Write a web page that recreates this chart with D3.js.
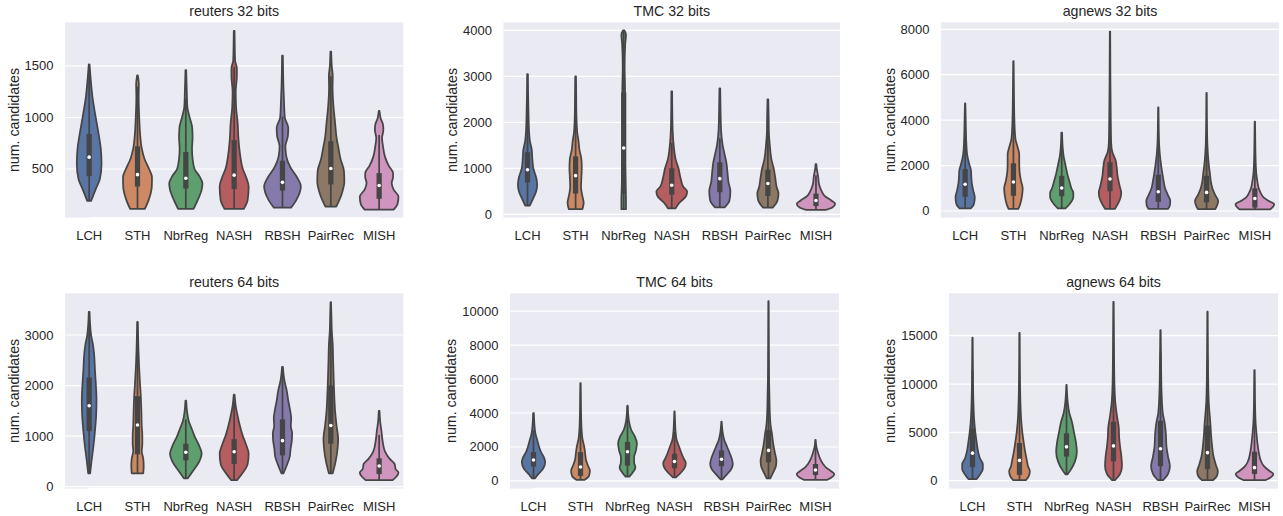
<!DOCTYPE html>
<html><head><meta charset="utf-8">
<script src="https://cdn.jsdelivr.net/npm/d3@7"></script>
<style>
body{margin:0;background:#fff}
text{font-family:"Liberation Sans",Arial,sans-serif;fill:#262626}
</style>
</head><body>
<svg id="chart" width="1283" height="516"></svg>
<script>
const categories = ["LCH","STH","NbrReg","NASH","RBSH","PairRec","MISH"];
const palette = ["#4C72B0","#DD8452","#55A868","#C44E52","#8172B3","#937860","#DA8BC3"];
const titles = ["reuters 32 bits","TMC 32 bits","agnews 32 bits","reuters 64 bits","TMC 64 bits","agnews 64 bits"];
const yTicks = [[500,1000,1500],[0,1000,2000,3000,4000],[0,2000,4000,6000,8000],[0,1000,2000,3000],[0,2000,4000,6000,8000,10000],[0,5000,10000,15000]];
const yLimits = [[27,1924],[-74,4174],[-295,8308],[-36,3825],[-443,11045],[-807,19386]];

// box stats per method: [whiskerLow, q1, median, q3, whiskerHigh]
// density profile per method: [value, relative density]
const reuters32Box = [[190,430,615,840,1480],[112,330,445,720,1300],[112,310,410,665,1180],[112,305,440,780,1490],[125,290,370,580,1010],[134,350,505,770,1400],[105,210,340,460,830]];
const reuters32Density = [
 [[190,0.1],[300,0.33],[400,0.55],[550,0.64],[700,0.6],[850,0.48],[1000,0.34],[1200,0.17],[1350,0.09],[1515,0.02]],
 [[112,0.38],[200,0.58],[330,0.74],[420,0.75],[500,0.6],[600,0.36],[700,0.22],[850,0.13],[1000,0.09],[1200,0.06],[1320,0.07],[1409,0.02]],
 [[112,0.4],[200,0.62],[300,0.82],[360,0.86],[430,0.7],[500,0.45],[600,0.35],[700,0.32],[800,0.35],[900,0.33],[1000,0.2],[1100,0.08],[1250,0.05],[1460,0.02]],
 [[112,0.5],[200,0.7],[330,0.75],[420,0.62],[500,0.45],[650,0.3],[800,0.22],[950,0.18],[1100,0.1],[1250,0.08],[1400,0.14],[1480,0.14],[1550,0.05],[1700,0.03],[1840,0.02]],
 [[125,0.45],[200,0.72],[330,0.95],[420,0.75],[520,0.4],[620,0.2],[720,0.15],[820,0.28],[900,0.3],[1000,0.12],[1150,0.08],[1300,0.05],[1600,0.02]],
 [[134,0.28],[250,0.55],[380,0.7],[480,0.68],[600,0.5],[700,0.4],[800,0.3],[950,0.22],[1100,0.14],[1300,0.09],[1400,0.1],[1500,0.05],[1640,0.02]],
 [[105,0.75],[160,0.95],[231,1.0],[300,0.75],[364,0.65],[420,0.72],[460,0.72],[530,0.5],[620,0.3],[720,0.2],[800,0.15],[880,0.22],[930,0.2],[990,0.08],[1063,0.02]]
];

const tmc32Box = [[190,690,970,1350,2300],[110,450,840,1260,2450],[110,450,1440,2650,4000],[130,430,630,1000,1550],[150,480,775,1130,1650],[145,400,670,970,1820],[95,180,300,450,850]];
const tmc32Density = [
 [[190,0.12],[350,0.3],[500,0.45],[650,0.5],[800,0.45],[1000,0.3],[1200,0.25],[1400,0.22],[1600,0.12],[1800,0.08],[2200,0.05],[2600,0.03],[3050,0.02]],
 [[110,0.35],[250,0.42],[400,0.35],[600,0.28],[800,0.3],[1000,0.32],[1200,0.3],[1400,0.2],[1600,0.15],[1800,0.08],[2200,0.04],[2600,0.03],[3000,0.02]],
 [[110,0.12],[300,0.12],[600,0.1],[1000,0.08],[1500,0.06],[2000,0.06],[2700,0.07],[3200,0.05],[3700,0.08],[3900,0.12],[4000,0.03]],
 [[130,0.2],[250,0.4],[400,0.75],[500,0.8],[600,0.6],[800,0.45],[1000,0.35],[1200,0.2],[1500,0.1],[1800,0.05],[2200,0.03],[2670,0.02]],
 [[150,0.25],[300,0.5],[500,0.55],[700,0.45],[900,0.4],[1100,0.35],[1300,0.25],[1500,0.15],[1800,0.07],[2200,0.04],[2740,0.02]],
 [[145,0.25],[300,0.5],[450,0.55],[600,0.45],[800,0.38],[1000,0.3],[1200,0.18],[1500,0.1],[1800,0.05],[2100,0.04],[2500,0.02]],
 [[95,0.5],[150,0.85],[230,1.0],[300,0.8],[400,0.45],[500,0.3],[600,0.2],[700,0.14],[800,0.12],[900,0.08],[1000,0.04],[1090,0.02]]
];

const agnews32Box = [[120,620,1180,1850,3700],[90,670,1280,2100,4200],[120,650,1010,1550,2900],[90,870,1410,2150,4070],[90,400,850,1600,3400],[80,380,820,1550,3300],[75,150,550,1000,2275]];
const agnews32Density = [
 [[120,0.3],[300,0.45],[600,0.5],[900,0.42],[1200,0.35],[1500,0.32],[1800,0.3],[2100,0.2],[2500,0.1],[3000,0.06],[3500,0.04],[4000,0.03],[4740,0.01]],
 [[90,0.25],[300,0.35],[700,0.45],[1000,0.48],[1300,0.4],[1700,0.32],[2100,0.3],[2500,0.3],[2800,0.22],[3200,0.1],[4000,0.05],[5000,0.03],[6600,0.01]],
 [[120,0.2],[300,0.4],[600,0.6],[800,0.6],[1000,0.5],[1300,0.4],[1600,0.3],[2000,0.2],[2400,0.1],[2800,0.05],[3450,0.02]],
 [[90,0.25],[300,0.4],[600,0.55],[800,0.58],[1100,0.5],[1500,0.4],[1900,0.35],[2200,0.3],[2600,0.12],[3000,0.06],[4000,0.04],[6000,0.02],[7900,0.01]],
 [[90,0.5],[250,0.6],[450,0.62],[700,0.5],[1000,0.35],[1300,0.28],[1600,0.22],[2000,0.15],[2500,0.08],[3000,0.04],[3800,0.02],[4560,0.01]],
 [[80,0.45],[250,0.55],[450,0.6],[700,0.45],[1000,0.3],[1300,0.22],[1600,0.18],[2000,0.12],[2500,0.07],[3000,0.04],[4000,0.02],[5200,0.01]],
 [[75,0.8],[200,0.95],[300,1.0],[450,0.7],[600,0.45],[800,0.3],[1000,0.2],[1300,0.13],[1600,0.08],[2000,0.05],[2600,0.03],[3200,0.02],[3930,0.01]]
];

const reuters64Box = [[265,1100,1600,2160,3460],[265,640,1220,1790,3260],[165,520,680,850,1330],[130,450,690,940,1675],[264,620,910,1330,2370],[265,850,1210,2000,3650],[130,250,410,560,1025]];
const reuters64Density = [
 [[265,0.05],[500,0.12],[800,0.22],[1100,0.3],[1400,0.36],[1700,0.38],[2000,0.35],[2300,0.3],[2600,0.26],[2800,0.2],[3000,0.1],[3200,0.05],[3460,0.02]],
 [[265,0.3],[400,0.32],[550,0.3],[700,0.22],[850,0.25],[1000,0.25],[1200,0.22],[1500,0.2],[1800,0.17],[2100,0.12],[2400,0.08],[2700,0.05],[3000,0.03],[3260,0.01]],
 [[165,0.1],[300,0.35],[500,0.7],[650,0.82],[800,0.7],[1000,0.45],[1150,0.3],[1300,0.15],[1500,0.06],[1700,0.02]],
 [[130,0.15],[250,0.4],[450,0.7],[650,0.75],[850,0.6],[1000,0.45],[1200,0.3],[1400,0.18],[1600,0.08],[1820,0.02]],
 [[264,0.05],[400,0.2],[600,0.38],[750,0.42],[900,0.48],[1050,0.5],[1200,0.43],[1350,0.45],[1500,0.4],[1700,0.3],[1900,0.22],[2100,0.1],[2370,0.02]],
 [[265,0.1],[500,0.25],[750,0.35],[950,0.38],[1200,0.3],[1500,0.22],[1800,0.18],[2100,0.15],[2500,0.12],[2800,0.1],[3100,0.05],[3400,0.03],[3650,0.01]],
 [[130,0.7],[200,0.9],[280,1.0],[350,0.85],[450,0.8],[550,0.55],[700,0.3],[900,0.18],[1100,0.12],[1300,0.05],[1500,0.02]]
];

const tmc64Box = [[160,850,1230,1700,2975],[60,300,820,1700,3800],[256,900,1720,2300,4400],[217,750,1150,1600,2875],[100,870,1280,1800,3195],[160,1100,1800,3000,5850],[60,350,650,1000,1975]];
const tmc64Density = [
 [[160,0.08],[400,0.25],[700,0.5],[1100,0.62],[1400,0.55],[1700,0.4],[2000,0.3],[2400,0.2],[2800,0.1],[3300,0.05],[4000,0.02]],
 [[60,0.2],[300,0.45],[600,0.5],[900,0.4],[1200,0.3],[1600,0.25],[2000,0.2],[2500,0.1],[3000,0.06],[4000,0.03],[5000,0.02],[5760,0.01]],
 [[256,0.1],[500,0.28],[800,0.42],[1100,0.35],[1400,0.35],[1800,0.45],[2200,0.5],[2600,0.4],[3000,0.2],[3500,0.08],[4000,0.03],[4430,0.01]],
 [[217,0.08],[500,0.35],[800,0.55],[1050,0.6],[1300,0.5],[1600,0.38],[2000,0.25],[2400,0.12],[3000,0.05],[3500,0.03],[4090,0.01]],
 [[100,0.05],[400,0.3],[700,0.52],[1000,0.6],[1300,0.55],[1600,0.45],[2000,0.3],[2400,0.15],[2800,0.07],[3500,0.01]],
 [[160,0.1],[500,0.25],[900,0.4],[1200,0.42],[1600,0.35],[2200,0.25],[2800,0.18],[3200,0.12],[4000,0.07],[5000,0.05],[6000,0.03],[8000,0.02],[10590,0.01]],
 [[60,0.6],[200,0.85],[400,1.0],[600,0.8],[800,0.55],[1000,0.4],[1300,0.25],[1600,0.15],[2000,0.05],[2420,0.01]]
];

const agnews64Box = [[170,1400,2850,5400,11400],[70,600,2100,3900,8850],[650,2500,3500,4900,8500],[70,2000,3600,6100,12250],[70,1500,3300,6200,13250],[70,1200,2900,5700,12450],[70,700,1350,3000,6450]];
const agnews64Density = [
 [[170,0.22],[600,0.38],[1200,0.55],[1700,0.55],[2300,0.4],[3000,0.3],[4000,0.22],[5000,0.15],[6000,0.1],[8000,0.05],[10000,0.03],[12000,0.02],[14790,0.01]],
 [[70,0.35],[500,0.5],[1000,0.55],[1500,0.45],[2000,0.4],[3000,0.3],[4000,0.22],[5000,0.15],[6000,0.1],[8000,0.05],[10000,0.03],[12000,0.02],[15300,0.01]],
 [[650,0.05],[1200,0.25],[2000,0.45],[3000,0.55],[4000,0.5],[5000,0.4],[6000,0.3],[7000,0.15],[8000,0.07],[9000,0.03],[9900,0.01]],
 [[70,0.08],[700,0.35],[1500,0.45],[2500,0.42],[3500,0.35],[4500,0.3],[5500,0.28],[6500,0.2],[8000,0.1],[10000,0.05],[13000,0.03],[16000,0.02],[18500,0.01]],
 [[70,0.15],[700,0.4],[1500,0.5],[2500,0.4],[3500,0.32],[5000,0.28],[6000,0.22],[7000,0.12],[9000,0.06],[12000,0.03],[15580,0.01]],
 [[70,0.3],[500,0.5],[1000,0.55],[1600,0.45],[2500,0.32],[3500,0.25],[4500,0.2],[6000,0.15],[8000,0.07],[10000,0.04],[14000,0.02],[17480,0.01]],
 [[70,0.6],[400,0.9],[700,1.0],[1000,0.8],[1500,0.5],[2000,0.35],[3000,0.22],[4000,0.15],[5000,0.1],[6000,0.06],[8000,0.03],[10000,0.02],[11440,0.01]]
];

const boxes = [reuters32Box, tmc32Box, agnews32Box, reuters64Box, tmc64Box, agnews64Box];
const densities = [reuters32Density, tmc32Density, agnews32Density, reuters64Density, tmc64Density, agnews64Density];

// layout (pixels): [left, top, right, bottom]
const frames = [[65,22.3,403.3,217.7],[503.5,22.3,840,217.7],[941,22.3,1279,217.7],
                [65,293.3,403.3,488.5],[510,293.3,839,488.5],[949,293.3,1278,488.5]];

const svg = d3.select("#chart");
const gray = "#454545";
const lw = 1.75;
const colors = palette.map(c => { const h = d3.hsl(c); h.s *= 0.75; return h.formatHex(); });

frames.forEach((f, i) => {
  const [L, T, R, B] = f;
  const g = svg.append("g");
  const x = d3.scaleBand().domain(categories).range([L, R]).padding(0);
  const y = d3.scaleLinear().domain(yLimits[i]).range([B, T]);
  const half = x.bandwidth() * 0.4;

  g.append("rect").attr("x", L).attr("y", T).attr("width", R - L).attr("height", B - T).attr("fill", "#EAEAF2");

  // grid
  g.selectAll(".grid").data(yTicks[i]).enter().append("line")
    .attr("x1", L).attr("x2", R).attr("y1", d => y(d)).attr("y2", d => y(d))
    .attr("stroke", "#fff").attr("stroke-width", 1.2);

  // trimmed bottom spine
  g.append("line").attr("x1", x(categories[0]) + x.bandwidth()/2).attr("x2", x(categories[6]) + x.bandwidth()/2)
    .attr("y1", B).attr("y2", B).attr("stroke", "#fff").attr("stroke-width", 1.5);

  // y tick labels
  const tl = g.selectAll(".yt").data(yTicks[i]).enter().append("text")
    .attr("x", L - 11.5).attr("y", d => y(d)).attr("text-anchor", "end")
    .attr("dominant-baseline", "central").attr("font-size", 13).text(d => d);
  let maxW = 0; tl.each(function(){ maxW = Math.max(maxW, this.getComputedTextLength()); });

  // x tick labels
  g.selectAll(".xt").data(categories).enter().append("text")
    .attr("x", d => x(d) + x.bandwidth()/2).attr("y", B + 18)
    .attr("text-anchor", "middle").attr("dominant-baseline", "central")
    .attr("font-size", 13).text(d => d);

  // y label
  const ly = (T + B) / 2, lx = L - 11.5 - maxW - 11;
  g.append("text").attr("transform", `translate(${lx},${ly}) rotate(-90)`)
    .attr("text-anchor", "middle").attr("dominant-baseline", "central")
    .attr("font-size", 14.2).text("num. candidates");

  // title
  g.append("text").attr("x", (L + R) / 2).attr("y", T - 11)
    .attr("text-anchor", "middle").attr("dominant-baseline", "central")
    .attr("font-size", 14.2).text(titles[i]);

  // violins
  categories.forEach((c, j) => {
    const cx = x(c) + x.bandwidth() / 2;
    const area = d3.area().curve(d3.curveMonotoneY)
      .y(d => y(d[0])).x0(d => cx - d[1] * half).x1(d => cx + d[1] * half);
    g.append("path").datum(densities[i][j]).attr("d", area)
      .attr("fill", colors[j]).attr("stroke", gray).attr("stroke-width", lw)
      .attr("stroke-linejoin", "round");
    const [wl, q1, md, q3, wh] = boxes[i][j];
    g.append("line").attr("x1", cx).attr("x2", cx).attr("y1", y(wl)).attr("y2", y(wh))
      .attr("stroke", gray).attr("stroke-width", lw);
    g.append("line").attr("x1", cx).attr("x2", cx).attr("y1", y(q1)).attr("y2", y(q3))
      .attr("stroke", gray).attr("stroke-width", lw * 3);
    g.append("circle").attr("cx", cx).attr("cy", y(md)).attr("r", 1.8).attr("fill", "#fff");
  });
});
</script>
</body></html>
